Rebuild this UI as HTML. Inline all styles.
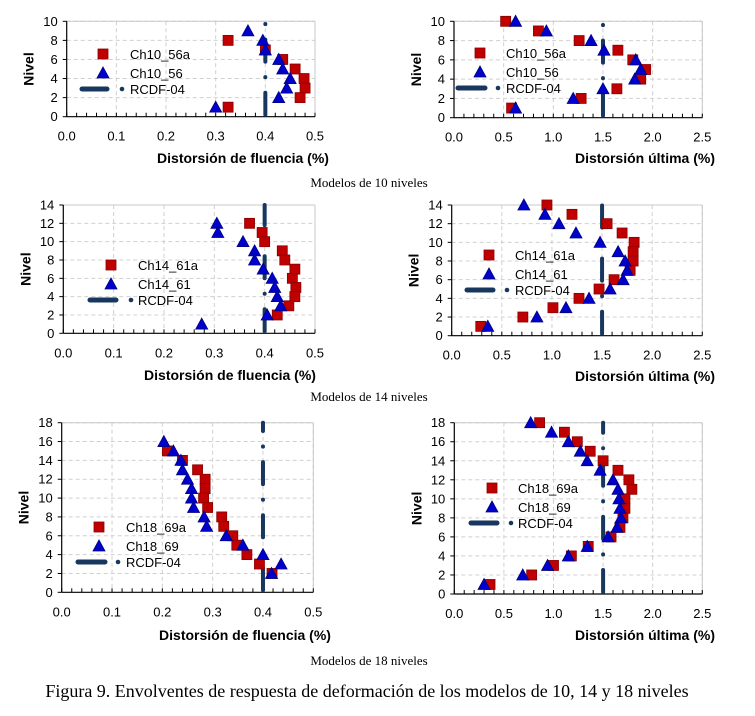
<!DOCTYPE html>
<html><head><meta charset="utf-8">
<style>
html,body{margin:0;padding:0;background:#fff;}
svg{display:block;}
</style></head>
<body>
<svg id="s" width="755" height="716" xmlns="http://www.w3.org/2000/svg" font-family="Liberation Sans, sans-serif">
<text x="369" y="187" font-family="Liberation Serif, serif" font-size="13" text-anchor="middle">Modelos de 10 niveles</text>
<text x="369" y="401" font-family="Liberation Serif, serif" font-size="13" text-anchor="middle">Modelos de 14 niveles</text>
<text x="369" y="665" font-family="Liberation Serif, serif" font-size="13" text-anchor="middle">Modelos de 18 niveles</text>
<text x="367" y="697" font-family="Liberation Serif, serif" font-size="18" text-anchor="middle">Figura 9. Envolventes de respuesta de deformación de los modelos de 10, 14 y 18 niveles</text>
</svg>
<script>
var NS="http://www.w3.org/2000/svg",S=document.getElementById('s');
function el(t,a,txt){var e=document.createElementNS(NS,t);for(var k in a)e.setAttribute(k,a[k]);if(txt!=null)e.textContent=txt;S.appendChild(e);return e;}
function chart(c){
 var X=function(v){return c.x0+(c.x1-c.x0)*v/c.xmax;},Y=function(v){return c.y0-(c.y0-c.y1)*v/c.ymax;};
 for(var i=1;i<=c.xmax/c.xstep+1e-6;i++){var gx=X(i*c.xstep);el('line',{x1:gx,y1:c.y1,x2:gx,y2:c.y0,stroke:'#d0d0d0','stroke-dasharray':'4 3','stroke-width':1});}
 for(var j=2;j<=c.ymax;j+=2){var gy=Y(j);el('line',{x1:c.x0,y1:gy,x2:c.x1,y2:gy,stroke:'#d0d0d0','stroke-dasharray':'4 3','stroke-width':1});}
 el('line',{x1:c.x0,y1:c.y1,x2:c.x1,y2:c.y1,stroke:'#c8c8c8'});
 el('line',{x1:c.x1,y1:c.y1,x2:c.x1,y2:c.y0,stroke:'#c8c8c8'});
 el('line',{x1:c.x0,y1:c.y1,x2:c.x0,y2:c.y0,stroke:'#000','stroke-width':1.2});
 el('line',{x1:c.x0,y1:c.y0,x2:c.x1,y2:c.y0,stroke:'#000','stroke-width':1.2});
 var nm=c.xmax/c.minor;
 for(var m=0;m<=nm;m++){var mx=c.x0+(c.x1-c.x0)*m/nm;el('line',{x1:mx,y1:c.y0,x2:mx,y2:c.y0-4,stroke:'#000'});}
 for(var j=0;j<=c.ymax;j+=2){var gy=Y(j);el('line',{x1:c.x0-4,y1:gy,x2:c.x0,y2:gy,stroke:'#000'});
  el('text',{x:c.x0-9,y:gy+4.5,'font-size':13,'text-anchor':'end'},String(j));}
 for(var i=0;i<=c.xmax/c.xstep+1e-6;i++){var v=i*c.xstep;el('text',{x:X(v),y:c.y0+24,'font-size':13,'text-anchor':'middle'},v.toFixed(1));}
 el('text',{x:0,y:0,'font-size':14,'font-weight':'bold','text-anchor':'middle',transform:'translate('+(c.x0-33)+','+((c.y0+c.y1)/2)+') rotate(-90)'},'Nivel');
 el('text',{x:c.tx,y:c.ty,'font-size':14,'font-weight':'bold','text-anchor':'middle'},c.title);
 var lx=X(c.rx);
 el('line',{x1:lx,y1:c.y0,x2:lx,y2:c.y1,stroke:'#17375E','stroke-width':4,'stroke-linecap':'round','stroke-dasharray':'22 15.5 0.1 15.5','stroke-dashoffset':-2});
 function sq(x,y){el('rect',{x:x-5,y:y-5,width:10,height:10,fill:'#C00000',stroke:'#8a0000','stroke-width':0.8});}
 function tri(x,y){el('polygon',{points:(x)+','+(y-6)+' '+(x+6)+','+(y+5)+' '+(x-6)+','+(y+5),fill:'#0000CC',stroke:'#000080','stroke-width':0.8});}
 c.sq.forEach(function(p){sq(X(p[0]),Y(p[1]));});
 c.tr.forEach(function(p){tri(X(p[0]),Y(p[1]));});
 var L=c.leg;
 sq(L.x,L.y);el('text',{x:L.tx,y:L.y+5,'font-size':13},c.n1);
 tri(L.x,L.y+19);el('text',{x:L.tx,y:L.y+24,'font-size':13},c.n2);
 el('line',{x1:L.lx1,y1:L.y+35,x2:L.lx2,y2:L.y+35,stroke:'#17375E','stroke-width':5,'stroke-linecap':'round'});
 el('circle',{cx:L.d,cy:L.y+35,r:2.3,fill:'#17375E'});
 el('text',{x:L.tx,y:L.y+40,'font-size':13},'RCDF-04');
}
chart({x0:66.7,x1:315,y0:116.7,y1:21.3,xmax:0.5,xstep:0.1,minor:0.02,ymax:10,rx:0.4,title:'Distorsión de fluencia (%)',tx:243,ty:163,
 n1:'Ch10_56a',n2:'Ch10_56',leg:{x:103,y:54,tx:130,lx1:82,lx2:107,d:122},
 sq:[[0.325,8],[0.40,7],[0.435,6],[0.46,5],[0.478,4],[0.48,3],[0.47,2],[0.325,1]],
 tr:[[0.365,9],[0.395,8],[0.40,7],[0.427,6],[0.435,5],[0.45,4],[0.443,3],[0.427,2],[0.30,1]]});
chart({x0:454,x1:702.3,y0:117.7,y1:21.3,xmax:2.5,xstep:0.5,minor:0.1,ymax:10,rx:1.5,title:'Distorsión última (%)',tx:645,ty:163,
 n1:'Ch10_56a',n2:'Ch10_56',leg:{x:480,y:53,tx:506,lx1:458,lx2:485,d:498},
 sq:[[0.52,10],[0.85,9],[1.26,8],[1.65,7],[1.80,6],[1.93,5],[1.88,4],[1.64,3],[1.28,2],[0.58,1]],
 tr:[[0.62,10],[0.93,9],[1.38,8],[1.51,7],[1.83,6],[1.88,5],[1.82,4],[1.5,3],[1.2,2],[0.62,1]]});
chart({x0:63.3,x1:315,y0:333.3,y1:205,xmax:0.5,xstep:0.1,minor:0.02,ymax:14,rx:0.4,title:'Distorsión de fluencia (%)',tx:230,ty:380,
 n1:'Ch14_61a',n2:'Ch14_61',leg:{x:111,y:265,tx:138,lx1:90,lx2:116,d:131},
 sq:[[0.37,12],[0.395,11],[0.40,10],[0.435,9],[0.44,8],[0.46,7],[0.455,6],[0.462,5],[0.46,4],[0.448,3],[0.425,2]],
 tr:[[0.305,12],[0.307,11],[0.357,10],[0.38,9],[0.38,8],[0.397,7],[0.415,6],[0.42,5],[0.425,4],[0.432,3],[0.405,2],[0.275,1]]});
chart({x0:451.7,x1:702.3,y0:335.7,y1:205,xmax:2.5,xstep:0.5,minor:0.1,ymax:14,rx:1.5,title:'Distorsión última (%)',tx:645,ty:381,
 n1:'Ch14_61a',n2:'Ch14_61',leg:{x:489,y:255,tx:515,lx1:467,lx2:493,d:507},
 sq:[[0.95,14],[1.2,13],[1.55,12],[1.7,11],[1.82,10],[1.81,9],[1.81,8],[1.78,7],[1.62,6],[1.47,5],[1.27,4],[1.01,3],[0.71,2],[0.29,1]],
 tr:[[0.72,14],[0.93,13],[1.07,12],[1.24,11],[1.48,10],[1.66,9],[1.73,8],[1.75,7],[1.71,6],[1.58,5],[1.37,4],[1.14,3],[0.85,2],[0.36,1]]});
chart({x0:61.7,x1:313.3,y0:592.3,y1:422.7,xmax:0.5,xstep:0.1,minor:0.02,ymax:18,rx:0.4,title:'Distorsión de fluencia (%)',tx:245,ty:640,
 n1:'Ch18_69a',n2:'Ch18_69',leg:{x:99,y:527,tx:126,lx1:78,lx2:105,d:118},
 sq:[[0.21,15],[0.24,14],[0.27,13],[0.285,12],[0.285,11],[0.282,10],[0.29,9],[0.318,8],[0.322,7],[0.34,6],[0.348,5],[0.368,4],[0.393,3],[0.418,2]],
 tr:[[0.203,16],[0.222,15],[0.237,14],[0.24,13],[0.25,12],[0.258,11],[0.258,10],[0.262,9],[0.283,8],[0.288,7],[0.327,6],[0.36,5],[0.40,4],[0.436,3],[0.417,2]]});
chart({x0:454.3,x1:702.3,y0:594,y1:422.7,xmax:2.5,xstep:0.5,minor:0.1,ymax:18,rx:1.5,title:'Distorsión última (%)',tx:645,ty:640,
 n1:'Ch18_69a',n2:'Ch18_69',leg:{x:492,y:488,tx:518,lx1:471,lx2:497,d:511},
 sq:[[0.86,18],[1.11,17],[1.24,16],[1.37,15],[1.5,14],[1.65,13],[1.76,12],[1.79,11],[1.72,10],[1.72,9],[1.7,8],[1.67,7],[1.58,6],[1.35,5],[1.18,4],[1.0,3],[0.78,2],[0.36,1]],
 tr:[[0.77,18],[0.98,17],[1.15,16],[1.27,15],[1.34,14],[1.47,13],[1.6,12],[1.65,11],[1.66,10],[1.67,9],[1.68,8],[1.64,7],[1.55,6],[1.34,5],[1.15,4],[0.94,3],[0.69,2],[0.3,1]]});
</script>
</body></html>
